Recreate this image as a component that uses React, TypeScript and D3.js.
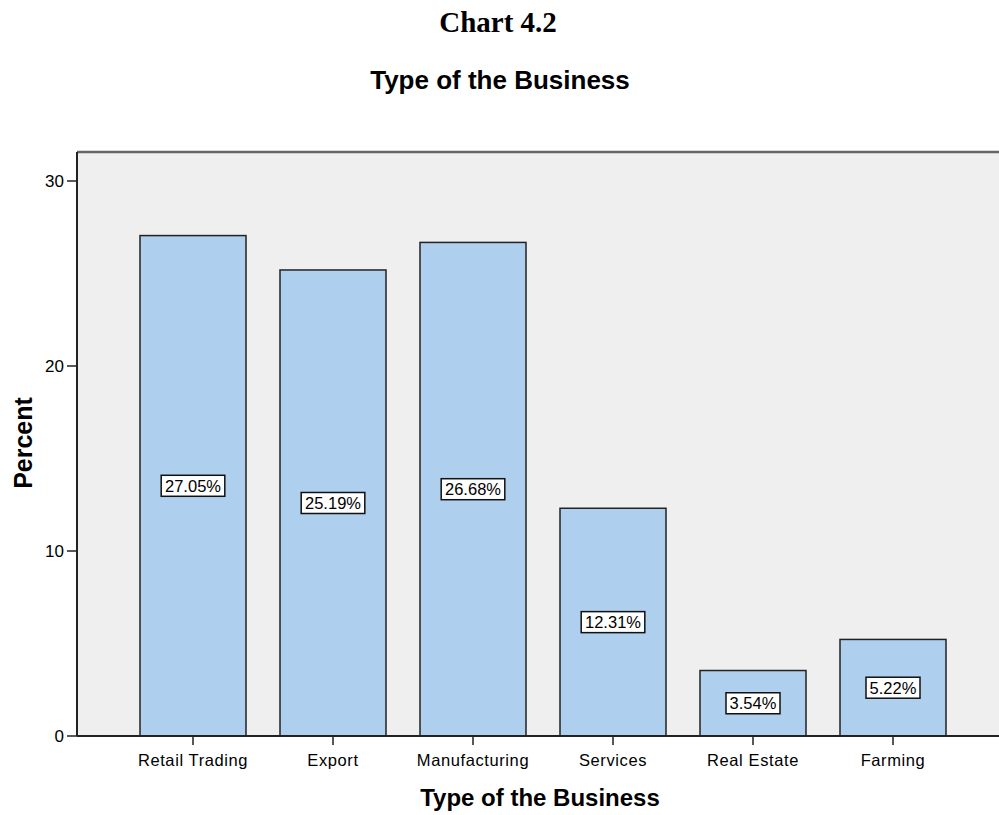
import React from "react";
import * as d3 from "d3";

const categories = ["Retail Trading", "Export", "Manufacturing", "Services", "Real Estate", "Farming"];
const percents = [27.05, 25.19, 26.68, 12.31, 3.54, 5.22];
const yTicks = [0, 10, 20, 30];

export default function App() {
  const W = 999, H = 815;
  const plotLeft = 77, plotTop = 152, plotBottom = 736;
  const x = d3.scaleBand<string>().domain(categories).range([123, 963]).paddingInner(34 / 140).paddingOuter(17 / 140);
  const y = d3.scaleLinear().domain([0, 30]).range([plotBottom, 181]);
  const font = "Arial, 'Liberation Sans', sans-serif";
  return (
    <svg width={W} height={H} style={{ position: "absolute", left: 0, top: 0 }}>
      <rect x={0} y={0} width={W} height={H} fill="#fff" />
      <text x={498} y={32} textAnchor="middle" fontFamily="'Times New Roman', 'Liberation Serif', serif" fontWeight="bold" fontSize={29}>Chart 4.2</text>
      <text x={500} y={89} textAnchor="middle" fontFamily={font} fontWeight="bold" fontSize={26}>Type of the Business</text>
      <rect x={plotLeft} y={plotTop} width={W - plotLeft + 5} height={plotBottom - plotTop} fill="#efefef" />
      <line x1={plotLeft} x2={W} y1={plotTop} y2={plotTop} stroke="#666" strokeWidth={2.5} />
      {categories.map((c, i) => {
        const bx = x(c)!;
        const by = y(percents[i]);
        const cx = bx + x.bandwidth() / 2;
        const cy = y(percents[i] / 2);
        const label = percents[i].toFixed(2) + "%";
        const lw = label.length * 9.6 + 6;
        return (
          <g key={c}>
            <rect x={bx} y={by} width={x.bandwidth()} height={plotBottom - by} fill="#aecfed" stroke="#222" strokeWidth={1.5} />
            <rect x={cx - lw / 2} y={cy - 10.5} width={lw} height={21} fill="#fff" stroke="#111" strokeWidth={1.5} />
            <text x={cx} y={cy + 6} textAnchor="middle" fontFamily={font} fontSize={16.5}>{label}</text>
            <line x1={cx} x2={cx} y1={plotBottom} y2={plotBottom + 9} stroke="#222" strokeWidth={1.5} />
            <text x={cx} y={plotBottom + 30} textAnchor="middle" fontFamily={font} fontSize={16.5} letterSpacing={0.6}>{c}</text>
          </g>
        );
      })}
      <line x1={plotLeft} x2={W} y1={plotBottom} y2={plotBottom} stroke="#222" strokeWidth={2} />
      <line x1={plotLeft} x2={plotLeft} y1={plotTop} y2={plotBottom} stroke="#222" strokeWidth={2} />
      {yTicks.map(t => (
        <g key={t}>
          <line x1={plotLeft - 10} x2={plotLeft} y1={y(t)} y2={y(t)} stroke="#222" strokeWidth={1.5} />
          <text x={plotLeft - 13} y={y(t) + 6} textAnchor="end" fontFamily={font} fontSize={17}>{t}</text>
        </g>
      ))}
      <text transform={`translate(32,443) rotate(-90)`} textAnchor="middle" fontFamily={font} fontWeight="bold" fontSize={25}>Percent</text>
      <text x={540} y={806} textAnchor="middle" fontFamily={font} fontWeight="bold" fontSize={24}>Type of the Business</text>
    </svg>
  );
}
